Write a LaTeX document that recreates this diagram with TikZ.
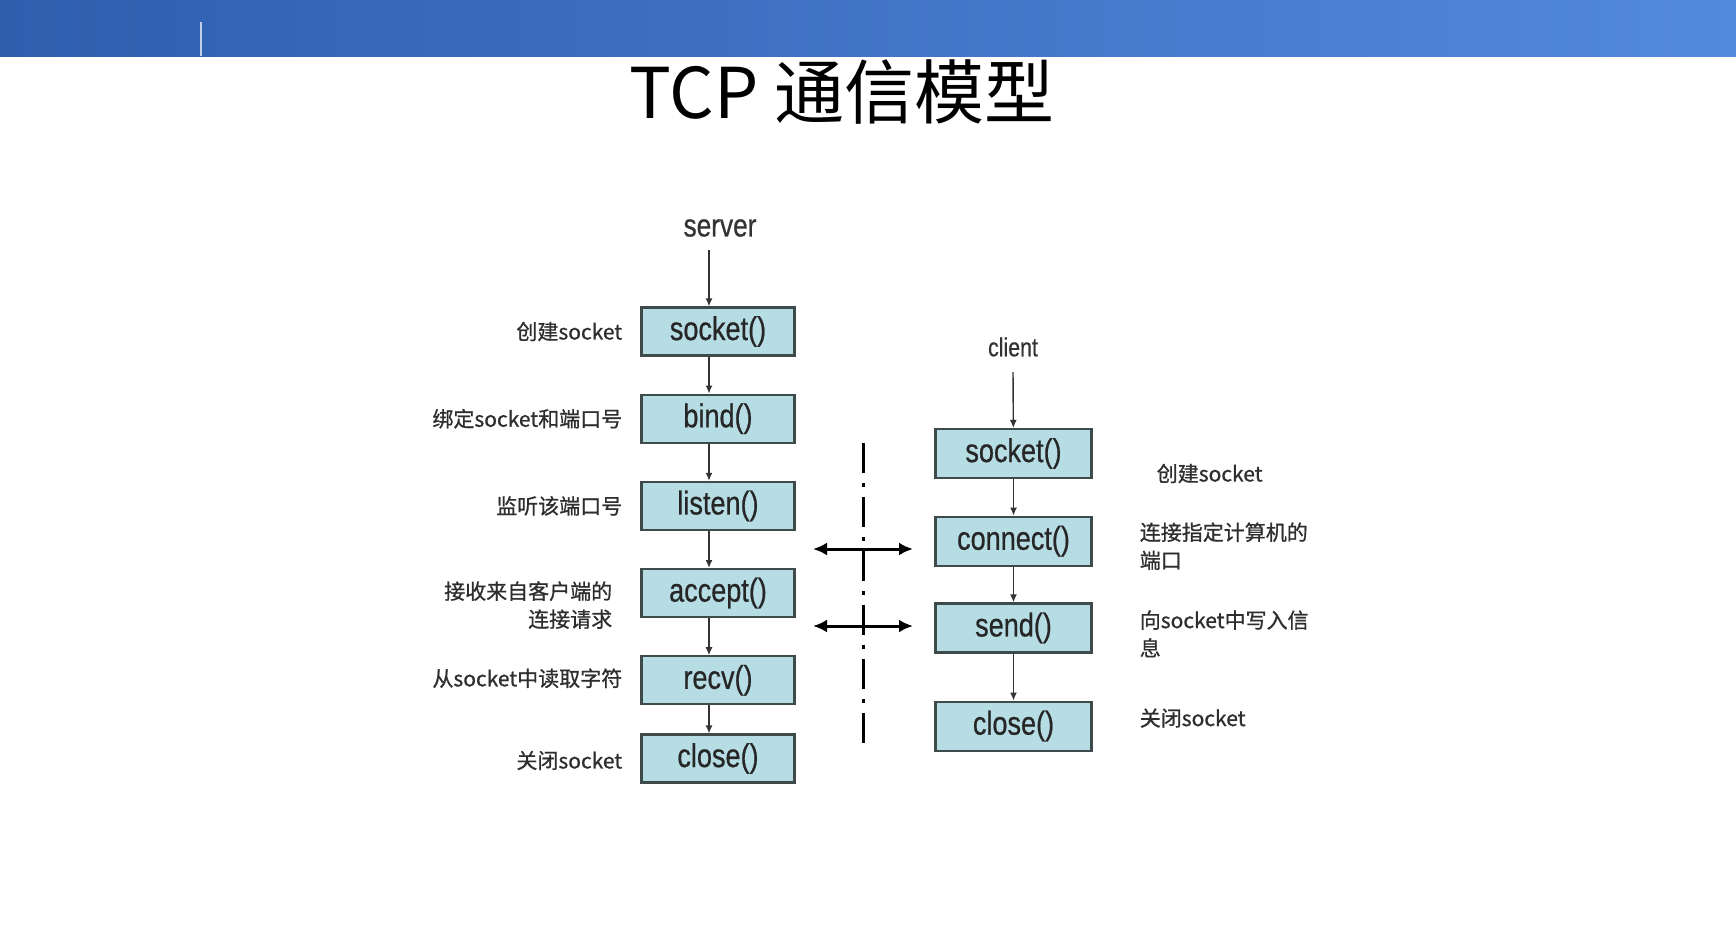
\documentclass[tikz,border=0pt]{standalone}
\usepackage{fontspec}
\setmainfont{Liberation Sans}
\newfontfamily\cjk{Noto Sans CJK SC}
\newfontfamily\notefont{Noto Sans CJK SC}[FakeBold=0.8]
\newfontfamily\narrowfont{Liberation Sans}[FakeStretch=0.82,FakeBold=0.6]
\usepackage{xcolor}
\usetikzlibrary{arrows.meta,positioning}

\definecolor{boxfill}{HTML}{B6DCE4}
\definecolor{boxline}{HTML}{3F4A4A}
\definecolor{notetext}{HTML}{2E2E2E}
\definecolor{bandleft}{HTML}{2F5EAF}
\definecolor{bandright}{HTML}{528ADC}

\begin{document}
\begin{tikzpicture}[
  >=Latex,
  node distance=37pt and 18pt,
  call/.style={
    draw=boxline,
    line width=2.2pt,
    fill=boxfill,
    minimum width=153pt,
    minimum height=48pt,
    inner sep=0pt,
    text=black!85,
    font=\narrowfont\fontsize{33}{36}\selectfont
  },
  ccall/.style={call, minimum width=156pt, minimum height=49pt},
  note/.style={inner sep=0pt, text=notetext, font=\notefont\fontsize{21}{28}\selectfont},
  lnote/.style={note, align=right},
  rnote/.style={note, align=left},
  arr/.style={-{Latex[length=8pt,width=7pt]}, line width=1.4pt, draw=black!80},
  link/.style={{Latex[length=14pt,width=13pt]}-{Latex[length=14pt,width=13pt]}, line width=3pt},
  split/.style={line width=3pt, dash pattern=on 30pt off 10pt on 4pt off 10pt}
]
\useasboundingbox (0,0) rectangle (1736pt,-948pt);
\fill[white] (0,0) rectangle (1736pt,-948pt);

% title band
\shade[left color=bandleft, right color=bandright] (0,0) rectangle (1736pt,-56pt);
\draw[white!70!bandleft, line width=1.5pt] (201pt,-22pt) -- (201pt,-56pt);
\node[anchor=base, font=\cjk\fontsize{70}{80}\selectfont] (title) at (842pt,-118pt) {TCP 通信模型};

% server side
\node[font=\narrowfont\fontsize{32}{36}\selectfont, text=black!80] (server) at (720pt,-228pt) {server};
\node[call] (s1) at (718pt,-331.5pt) {socket()};
\node[call, below=of s1] (s2) {bind()};
\node[call, below=of s2] (s3) {listen()};
\node[call, below=of s3] (s4) {accept()};
\node[call, below=of s4] (s5) {recv()};
\node[call, below=28pt of s5] (s6) {close()};

\node[lnote, left=of s1] (n1) {创建socket};
\node[lnote, left=of s2] (n2) {绑定socket和端口号};
\node[lnote, left=of s3] (n3) {监听该端口号};
\node[lnote, left=28pt of s4, yshift=-12pt] (n4) {接收来自客户端的\\连接请求};
\node[lnote, left=of s5, yshift=2pt] (n5) {从socket中读取字符};
\node[lnote, left=of s6, yshift=-2pt] (n6) {关闭socket};

% client side
\node[font=\narrowfont\fontsize{26}{30}\selectfont, text=black!80] (client) at (1013pt,-347pt) {client};
\node[ccall] (c1) at (1013.5pt,-453.5pt) {socket()};
\node[ccall, below=36.5pt of c1] (c2) {connect()};
\node[ccall, below=35.5pt of c2] (c3) {send()};
\node[ccall, below=47pt of c3] (c4) {close()};

\node[rnote, right=64pt of c1, yshift=-20pt] (m1) {创建socket};
\node[rnote, right=47pt of c2, yshift=-5pt] (m2) {连接指定计算机的\\端口};
\node[rnote, right=47pt of c3, yshift=-6pt] (m3) {向socket中写入信\\息};
\node[rnote, right=47pt of c4, yshift=8pt] (m4) {关闭socket};

% connectors
\coordinate (sx) at (709pt,0);
\coordinate (sstart) at (709pt,-250pt);
\coordinate (cstart) at (1013pt,-372pt);

\draw[arr] (sstart) -- (s1.north -| sx);
\draw[arr] (s1.south -| sx) -- (s2.north -| sx);
\draw[arr] (s2.south -| sx) -- (s3.north -| sx);
\draw[arr] (s3.south -| sx) -- (s4.north -| sx);
\draw[arr] (s4.south -| sx) -- (s5.north -| sx);
\draw[arr] (s5.south -| sx) -- (s6.north -| sx);

\draw[arr] (cstart) -- (c1);
\draw[arr] (c1) -- (c2);
\draw[arr] (c2) -- (c3);
\draw[arr] (c3) -- (c4);

% divider and exchanges
\coordinate (divtop) at (863pt,-443pt);
\coordinate (divbot) at (863pt,-751pt);
\draw[split] (divtop) -- (divbot);

\coordinate (l1) at (813pt,-549pt);
\coordinate (r1) at (913pt,-549pt);
\coordinate (l2) at (813pt,-626pt);
\coordinate (r2) at (913pt,-626pt);
\draw[link] (l1) -- (r1);
\draw[link] (l2) -- (r2);
\end{tikzpicture}
\end{document}
